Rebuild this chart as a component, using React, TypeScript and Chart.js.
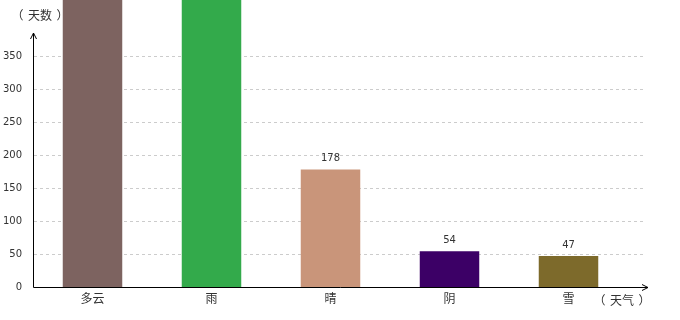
import React, { useEffect, useRef } from "react";
import { Chart, registerables } from "chart.js";

Chart.register(...registerables);

const categories = ["多云", "雨", "晴", "阴", "雪"];
const days = [460, 480, 178, 54, 47];
const barColors = ["#7D6360", "#33AA4B", "#C9957A", "#3C0066", "#7D6A2B"];
const yTickValues = [0, 50, 100, 150, 200, 250, 300, 350];
const yTitle = ["（", "天数", "）"];
const xTitle = ["（", "天气", "）"];

const NUM_FONT = "10px 'DejaVu Sans', sans-serif";
const CJK_FONT = "12px 'Noto Sans CJK SC', sans-serif";

function drawTitle(ctx: any, parts: string[], left: number, right: number, cy: number) {
  ctx.textBaseline = "middle";
  ctx.textAlign = "left";
  const wl = ctx.measureText(parts[0]).width;
  // opening paren glyph ink sits on the right side of its box
  ctx.fillText(parts[0], left - wl * 0.7, cy);
  ctx.textAlign = "center";
  ctx.fillText(parts[1], (left + right) / 2, cy);
  ctx.textAlign = "left";
  ctx.fillText(parts[2], right - wl * 0.3, cy);
}

const decorPlugin = {
  id: "decor",
  beforeDatasetsDraw(chart: any) {
    const ctx = chart.ctx;
    const y = chart.scales.y;
    const area = chart.chartArea;
    ctx.save();
    ctx.strokeStyle = "#cccccc";
    ctx.lineWidth = 1;
    ctx.setLineDash([3, 3]);
    yTickValues.forEach((v) => {
      if (v === 0) return;
      const py = Math.round(y.getPixelForValue(v)) + 0.5;
      ctx.beginPath();
      ctx.moveTo(area.left + 1, py);
      ctx.lineTo(area.right + 18, py);
      ctx.stroke();
    });
    ctx.restore();
  },
  afterDatasetsDraw(chart: any) {
    const ctx = chart.ctx;
    const y = chart.scales.y;
    const area = chart.chartArea;
    ctx.save();
    ctx.strokeStyle = "#000";
    ctx.lineWidth = 1;
    ctx.setLineDash([]);
    const y0 = Math.round(y.getPixelForValue(0)) + 0.5;
    const xl = Math.round(area.left) + 0.5;
    const xEnd = area.right + 20;
    ctx.beginPath();
    ctx.moveTo(xl, y0);
    ctx.lineTo(xEnd, y0);
    ctx.moveTo(xEnd - 6, y0 - 3);
    ctx.lineTo(xEnd, y0);
    ctx.lineTo(xEnd - 6, y0 + 3);
    ctx.stroke();
    const yTop = area.top;
    ctx.beginPath();
    ctx.moveTo(xl, y0);
    ctx.lineTo(xl, yTop);
    ctx.moveTo(xl - 3, yTop + 6);
    ctx.lineTo(xl, yTop);
    ctx.lineTo(xl + 3, yTop + 6);
    ctx.stroke();
    ctx.fillStyle = "#333";
    ctx.font = CJK_FONT;
    drawTitle(ctx, yTitle, 20, 60, 15);
    drawTitle(ctx, xTitle, xEnd - 46, xEnd - 6, y0 + 13);
    ctx.font = NUM_FONT;
    ctx.fillStyle = "#333";
    ctx.textAlign = "center";
    ctx.textBaseline = "middle";
    const meta = chart.getDatasetMeta(0);
    meta.data.forEach((bar: any, i: number) => {
      ctx.fillText(String(days[i]), bar.x, bar.y - 11);
    });
    ctx.restore();
  },
};

export default function App() {
  const ref = useRef<HTMLCanvasElement>(null);
  useEffect(() => {
    if (!ref.current) return;
    const chart = new Chart(ref.current, {
      type: "bar",
      data: {
        labels: categories,
        datasets: [
          {
            data: days,
            backgroundColor: barColors,
            borderWidth: 0,
            barPercentage: 0.5,
            categoryPercentage: 1,
            clip: false as any,
          },
        ],
      },
      options: {
        animation: false,
        responsive: false,
        maintainAspectRatio: false,
        layout: { padding: { top: 33, right: 52, bottom: 0, left: 0 } },
        plugins: { legend: { display: false }, tooltip: { enabled: false } },
        scales: {
          x: {
            grid: { display: false },
            border: { display: false },
            ticks: {
              color: "#333",
              padding: -4,
              font: { family: "'Noto Sans CJK SC', sans-serif", size: 12 },
            },
            afterFit: (s: any) => {
              s.height = 33;
            },
          },
          y: {
            min: 0,
            max: 385,
            grid: { display: false },
            border: { display: false },
            ticks: {
              stepSize: 50,
              color: "#333",
              padding: 3,
              font: { family: "'DejaVu Sans', sans-serif", size: 10 },
            },
            afterBuildTicks: (s: any) => {
              s.ticks = s.ticks.filter((t: any) => yTickValues.includes(t.value));
            },
            afterFit: (s: any) => {
              s.width = 33;
            },
          },
        },
      },
      plugins: [decorPlugin],
    });
    return () => chart.destroy();
  }, []);
  return (
    <div style={{ position: "fixed", left: 0, top: 0, width: 680, height: 320, background: "#fff" }}>
      <canvas ref={ref} width={680} height={320} style={{ width: 680, height: 320 }} />
    </div>
  );
}
